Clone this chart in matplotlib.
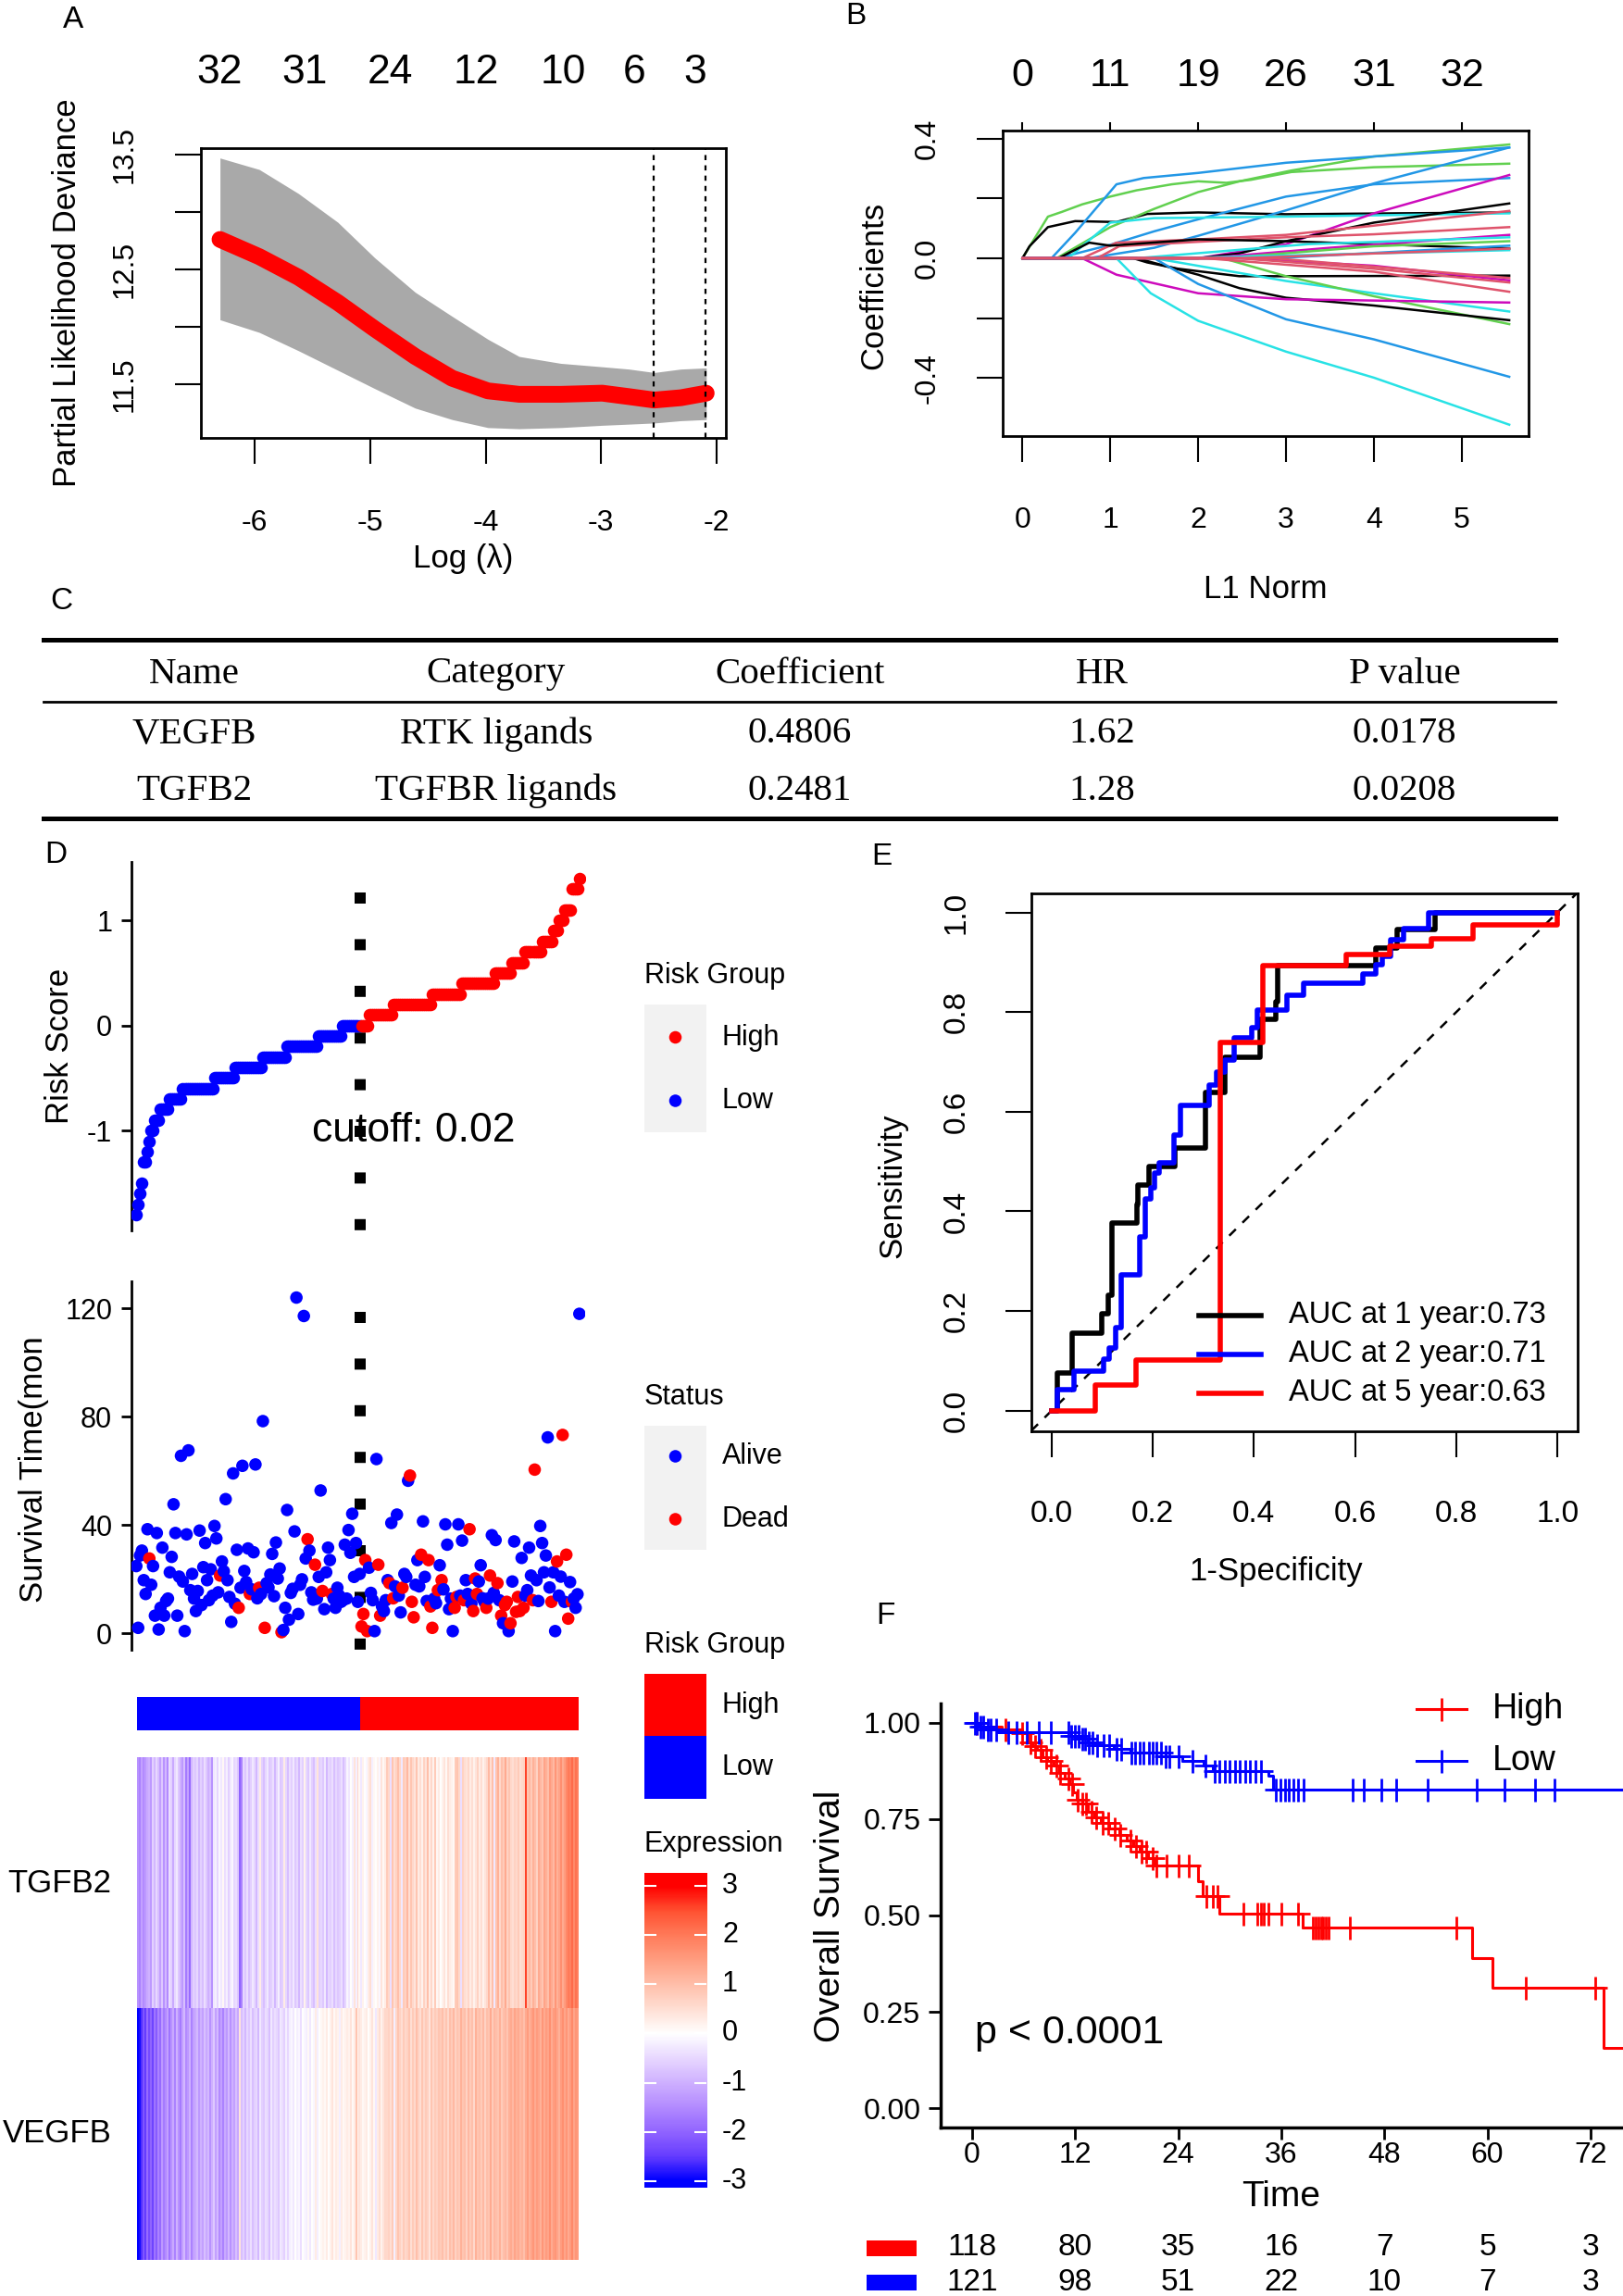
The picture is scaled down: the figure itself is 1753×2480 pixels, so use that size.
import numpy as np
import matplotlib
matplotlib.use("Agg")
import matplotlib.pyplot as plt
from matplotlib.colors import LinearSegmentedColormap, ListedColormap, Normalize
from matplotlib.patches import Rectangle

plt.rcParams['font.family'] = ['Liberation Sans', 'DejaVu Sans']
plt.rcParams['axes.unicode_minus'] = False

# ---------------- data ----------------
# A: cross-validated partial likelihood deviance
cv_loglam = [-6.30, -5.96, -5.62, -5.28, -4.96, -4.61, -4.29, -3.98, -3.71, -3.35, -2.99, -2.76, -2.54, -2.31, -2.09]
cv_mean = [12.76, 12.61, 12.43, 12.21, 11.98, 11.74, 11.55, 11.44, 11.41, 11.41, 11.42, 11.39, 11.36, 11.38, 11.42]
cv_upper = [13.47, 13.37, 13.16, 12.91, 12.60, 12.30, 12.09, 11.89, 11.74, 11.68, 11.65, 11.63, 11.60, 11.63, 11.64]
cv_lower = [12.06, 11.95, 11.79, 11.62, 11.46, 11.29, 11.19, 11.12, 11.11, 11.12, 11.14, 11.15, 11.16, 11.18, 11.19]
lam_min, lam_1se = -2.545, -2.10
nz_pos = [-6.30, -5.57, -4.83, -4.08, -3.33, -2.71, -2.19]
nz_lab = ['32', '31', '24', '12', '10', '6', '3']

# B: coefficient paths
path_l1 = [
    [0, 0.29, 0.45, 0.68, 1.0, 1.3, 1.7, 2.0, 2.32, 2.6, 3.06, 4.0, 5.54],
    [0, 0.08, 0.29, 0.6, 1.07, 1.42, 2.0, 3.0, 5.54],
    [0, 0.39, 1.0, 1.5, 2.0, 2.47, 3.06, 4.0, 5.54],
    [0, 0.33, 0.6, 1.07, 1.38, 2.0, 3.0, 4.0, 5.54],
    [0, 0.75, 1.5, 2.0, 3.0, 4.0, 5.54],
    [0, 0.4, 1.0, 1.5, 2.0, 3.0, 4.0, 5.54],
    [0, 0.52, 0.8, 1.0, 1.5, 3.0, 5.54],
    [0, 2.0, 3.0, 4.0, 5.54],
    [0, 2.0, 2.47, 3.0, 4.0, 5.54],
    [0, 0.68, 1.07, 2.0, 3.0, 4.0, 5.54],
    [0, 0.85, 1.1, 2.0, 3.0, 4.0, 5.54],
    [0, 0.41, 0.76, 1.0, 2.0, 3.0, 4.0, 5.54],
    [0, 2.08, 3.5, 5.54],
    [0, 2.28, 4.0, 5.54],
    [0, 1.3, 3.25, 5.54],
    [0, 2.86, 5.54],
    [0, 1.69, 5.54],
    [0, 2.47, 5.54],
    [0, 1.26, 1.42, 1.77, 2.47, 3.0, 5.54],
    [0, 1.5, 3.0, 4.0, 5.54],
    [0, 2.28, 3.0, 4.0, 5.54],
    [0, 1.3, 2.0, 2.47, 3.0, 4.0, 5.54],
    [0, 0.68, 1.07, 2.0, 3.0, 5.54],
    [0, 1.07, 1.46, 2.0, 3.0, 4.0, 5.54],
    [0, 1.5, 2.0, 3.0, 4.0, 5.54],
    [0, 2.47, 4.0, 5.54],
    [0, 2.47, 4.0, 5.54],
    [0, 2.08, 4.0, 5.54],
    [0, 2.86, 5.54],
]
path_coef = [
    [0, .139, .155, .18, .206, .227, .247, .257, .252, .262, .288, .304, .316],
    [0, .04, .104, .124, .121, .148, .153, .147, .153],
    [0, 0, .104, .165, .221, .257, .293, .34, .38],
    [0, 0, .085, .247, .268, .285, .319, .34, .37],
    [0, 0, .035, .075, .16, .25, .37],
    [0, 0, .045, .09, .13, .206, .247, .268],
    [0, 0, .07, .119, .134, .139, .15],
    [0, 0, .047, .15, .278],
    [0, 0, .016, .057, .119, .183],
    [0, 0, .052, .063, .078, .109, .158],
    [0, 0, .04, .055, .07, .08, .104],
    [0, 0, .052, .042, .063, .057, .047, .032],
    [0, 0, .035, .078],
    [0, 0, .04, .057],
    [0, 0, .047, .07],
    [0, 0, .042],
    [0, 0, .027],
    [0, 0, .032],
    [0, 0, -.014, -.035, -.06, -.06, -.058],
    [0, 0, -.076, -.117, -.178],
    [0, 0, -.06, -.127, -.22],
    [0, 0, -.055, -.10, -.132, -.158, -.207],
    [0, 0, -.055, -.117, -.137, -.148],
    [0, 0, -.117, -.209, -.312, -.399, -.556],
    [0, 0, -.086, -.204, -.271, -.396],
    [0, 0, -.025, -.074],
    [0, 0, -.035, -.081],
    [0, 0, -.045, -.112],
    [0, 0, -.066],
]
path_col = ['#61D04F', 'black', '#61D04F', '#2297E6', '#2297E6', '#2297E6', '#28E2E5', '#CD0BBC',
            'black', '#DF536B', '#DF536B', 'black', '#CD0BBC', '#61D04F', '#28E2E5', '#2297E6',
            '#28E2E5', '#DF536B', 'black', '#28E2E5', '#61D04F', 'black', '#CD0BBC', '#28E2E5',
            '#2297E6', '#CD0BBC', '#DF536B', '#DF536B', '#DF536B']
df_top = ['0', '11', '19', '26', '31', '32']

# C: table
tab_head = ['Name', 'Category', 'Coefficient', 'HR', 'P value']
tab_rows = [['VEGFB', 'RTK ligands', '0.4806', '1.62', '0.0178'],
            ['TGFB2', 'TGFBR ligands', '0.2481', '1.28', '0.0208']]

# D: risk score (run lengths of sorted scores)
risk_low_lv = [-1.8, -1.7, -1.6, -1.5, -1.3, -1.2, -1.1, -1.0, -0.9, -0.8, -0.7, -0.6, -0.5, -0.4, -0.3, -0.2, -0.1, 0.0]
risk_low_n = [1, 1, 1, 1, 2, 1, 1, 2, 3, 5, 7, 17, 11, 15, 13, 17, 13, 10]
risk_high_lv = [0.0, 0.1, 0.2, 0.3, 0.4, 0.5, 0.6, 0.7, 0.8, 0.9, 1.0, 1.1, 1.3, 1.4]
risk_high_n = [4, 13, 21, 16, 18, 9, 7, 9, 6, 3, 3, 4, 4, 1]
cutoff_txt = 'cutoff: 0.02'

surv_low = [24.9, 2.1, 28.8, 30.6, 19.7, 14.6, 38.5, 27.7, 18.0, 24.9, 6.6, 37.1, 1.5, 9.5, 31.7, 6.6,
            12.0, 12.9, 22.6, 28.3, 47.7, 37.1, 6.6, 21.0, 65.6, 19.2, 0.9, 36.6, 67.6, 16.0, 22.0, 12.9,
            8.3, 15.7, 38.0, 10.5, 24.5, 33.4, 19.7, 12.3, 23.7, 14.0, 39.7, 35.1, 15.2, 21.4, 26.6, 23.0,
            49.6, 19.7, 13.5, 4.3, 59.1, 11.0, 30.9, 9.5, 16.9, 61.9, 23.1, 19.0, 31.4, 14.6, 16.3, 30.0,
            62.4, 13.0, 16.9, 14.6, 78.4, 2.1, 18.6, 17.0, 21.8, 29.4, 13.8, 33.6, 20.3, 24.0, 0.5, 1.3,
            9.5, 45.6, 5.1, 15.0, 16.5, 37.7, 124.0, 7.2, 18.0, 20.0, 117.2, 27.7, 34.8, 30.6, 15.2, 12.5,
            25.4, 12.9, 20.9, 52.8, 15.7, 9.0, 22.6, 31.7, 27.1, 14.6, 12.9, 9.5, 16.9, 14.0, 11.7, 12.3,
            32.8, 12.9, 38.2, 29.8, 44.2, 20.9, 33.4, 11.7, 22.0]
dead_low = [0, 0, 0, 0, 0, 0, 0, 1, 0, 0, 0, 0, 0, 0, 0, 0,
            0, 0, 0, 0, 0, 0, 0, 0, 0, 0, 0, 0, 0, 0, 0, 0,
            0, 0, 0, 0, 0, 0, 0, 0, 0, 0, 0, 0, 0, 1, 0, 0,
            0, 0, 0, 0, 0, 0, 0, 1, 0, 0, 0, 0, 0, 1, 0, 0,
            0, 0, 1, 0, 0, 1, 0, 0, 0, 0, 0, 0, 0, 0, 1, 0,
            0, 0, 0, 0, 0, 0, 0, 0, 0, 0, 0, 0, 1, 0, 0, 0,
            1, 0, 0, 0, 1, 0, 0, 0, 0, 1, 0, 0, 0, 0, 0, 0,
            0, 0, 0, 0, 0, 0, 0, 0, 0]
surv_high = [2.6, 7.2, 27.1, 0.9, 24.3, 15.0, 12.3, 0.9, 64.4, 25.4, 6.6, 10.0, 8.3, 12.3, 19.7, 18.6,
             40.8, 13.0, 17.4, 43.9, 14.0, 7.8, 16.9, 22.0, 20.9, 56.4, 58.3, 11.7, 6.0, 18.0, 27.1, 17.4,
             29.1, 41.4, 20.9, 12.0, 27.1, 10.0, 2.1, 12.9, 11.2, 16.0, 25.2, 19.7, 16.3, 40.3, 32.8, 9.0,
             12.9, 0.9, 9.5, 13.5, 40.3, 14.0, 34.3, 12.3, 19.7, 14.6, 38.5, 11.0, 8.3, 20.3, 14.6, 19.2,
             25.2, 13.0, 11.7, 9.5, 12.9, 21.4, 36.3, 15.0, 34.5, 18.6, 12.3, 6.6, 3.8, 10.5, 11.7, 0.9,
             3.8, 19.2, 34.0, 8.0, 13.5, 8.3, 27.9, 9.5, 14.0, 16.0, 31.7, 21.4, 12.3, 60.5, 19.7, 12.0,
             39.7, 33.4, 22.6, 28.8, 72.4, 17.0, 11.7, 22.6, 0.9, 26.6, 14.0, 21.0, 73.3, 11.7, 29.1, 5.5,
             19.0, 11.7, 12.9, 9.5, 14.5, 118.0]
dead_high = [1, 1, 1, 1, 0, 0, 0, 0, 0, 1, 1, 0, 0, 0, 0, 1,
             0, 1, 0, 0, 0, 0, 1, 0, 0, 0, 1, 1, 1, 0, 0, 0,
             1, 0, 0, 0, 1, 1, 1, 0, 0, 1, 0, 1, 0, 0, 0, 0,
             0, 0, 1, 1, 0, 0, 0, 1, 0, 0, 1, 0, 1, 1, 1, 0,
             0, 0, 0, 1, 0, 1, 0, 0, 0, 1, 0, 1, 0, 1, 1, 0,
             1, 0, 0, 1, 1, 1, 0, 1, 0, 0, 0, 0, 1, 1, 0, 0,
             0, 0, 0, 0, 0, 0, 1, 0, 0, 1, 0, 0, 1, 0, 1, 1,
             0, 1, 0, 0, 0, 0]

# D: heatmap expression (columns in risk order)
genes = ['TGFB2', 'VEGFB']
expr_tgfb2 = [
    -1.4, -1.6, -1.2, -1.5, -1.3, -1.1, -1.0, -1.3, -0.6, -0.9,
    -0.5, -0.8, -1.2, -0.7, -1.4, -0.9, -1.5, -0.4, -0.6, -1.1,
    -0.5, -0.3, -0.7, -1.0, -1.3, -0.8, -1.7, -1.2, -1.9, -0.9,
    -0.6, -0.7, -0.5, -0.9, -0.6, -0.8, -0.4, -0.7, -1.0, -0.8,
    -1.4, -0.3, -0.2, -0.5, -0.1, -0.3, 0.1, -0.4, -0.2, -0.6,
    -0.3, -0.1, -0.5, -0.4, -0.7, -2.0, -1.6, -0.5, -0.7, -0.4,
    -0.8, -0.6, -0.3, -0.5, -0.9, -0.4, 0.3, -0.6, -0.8, -0.5,
    -0.3, -0.7, -0.6, -0.4, -0.9, -0.5, -0.2, -0.7, -0.6, 0.3,
    -0.5, -0.8, -0.4, -0.6, -0.3, -0.7, -0.5, -0.9, -0.4, -0.6,
    0.2, -0.5, -0.7, -0.3, -0.6, -0.8, -0.4, 0.4, -0.6, -0.5,
    -0.7, -0.3, -0.9, -0.5, -0.6, -0.4, -0.8, -0.5, -0.7, -0.6,
    -0.4, -0.8, -0.5, -0.1, -0.3, 0.0, -0.2, 0.4, -0.2, 0.6,
    0.1, -0.3, 0.2, 0.0, -0.1, 0.3, 0.5, -0.2, 0.1, 0.0,
    0.2, -0.1, 0.4, 0.1, 0.3, 0.8, 0.6, -0.4, 0.9, 0.5,
    0.7, 1.0, 0.6, -0.3, 0.8, 0.7, 1.1, 0.5, 0.9, 0.6,
    0.4, 0.9, 0.3, 0.5, 0.2, 0.7, 0.4, 1.0, 0.3, 0.6,
    0.2, 0.8, 0.1, 0.3, 0.0, 0.2, 0.4, 0.1, 0.5, 0.3,
    0.2, 0.1, 0.8, 0.9, 0.6, -0.4, 0.7, 0.5, 0.4, 0.6,
    0.3, 0.5, 0.2, 0.4, 0.7, 0.3, 0.5, 0.2, 0.4, 0.6,
    1.1, 0.5, 1.0, -0.3, 0.9, 1.2, 0.6, 1.0, 0.8, 1.3,
    0.7, 0.9, 0.6, 0.5, 0.7, 0.6, 0.8, 0.5, 0.6, 0.7,
    2.6, 0.9, 1.1, 0.8, 1.2, 1.0, 0.7, 1.3, 1.1, 0.9,
    1.4, 1.2, 1.0, 1.5, 1.3, 1.1, 1.6, 1.2, 1.4, 1.7,
    1.3, 1.5, 1.8, 2.0, 1.9, 2.2, 1.8, 2.1, 1.9]
expr_vegfb = [
    -3.0, -2.9, -2.6, -2.2, -2.5, -1.9, -2.3, -2.0, -2.4, -1.8,
    -2.1, -1.6, -1.9, -1.3, -1.7, -1.5, -1.2, -1.8, -1.4, -1.1,
    -1.6, -1.0, -1.4, -1.7, -1.2, -0.9, -1.5, -1.3, -1.0, -1.6,
    -1.2, -1.1, -0.9, -1.3, -1.0, -1.2, -0.8, -1.1, -0.9, -1.4,
    -1.0, -0.7, -1.2, -0.9, -1.5, -1.2, -1.6, -1.1, -1.3, -0.9,
    -1.4, -1.0, -1.2, -0.8, -1.1, 0.4, -0.8, -0.6, -0.9, -0.5,
    -0.7, -0.4, -0.8, -0.6, -0.5, -0.9, -0.3, -0.6, -0.7, -0.4,
    -0.5, -0.8, -0.3, -0.6, -0.4, -0.5, -0.7, -0.3, -0.4, -0.6,
    -0.2, -0.5, -0.2, -0.1, -0.3, 0.0, -0.2, -0.1, -0.4, 0.0,
    -0.1, -0.2, 0.1, -0.3, 0.0, -0.1, 0.3, -0.2, 0.0, 0.1,
    0.2, 0.1, 0.3, 0.0, 0.2, 0.4, 0.1, 0.3, 0.2, -0.2,
    0.3, 0.1, 0.2, 0.3, 0.2, 0.4, 0.1, 0.3, 0.9, 0.2,
    0.4, 0.3, 0.1, 0.2, 0.3, 0.0, 0.2, 0.4, 0.1, -0.3,
    0.3, 0.5, 0.2, 0.4, 0.6, 0.6, 0.7, 0.5, 0.8, -0.2,
    0.6, 0.9, 0.7, 0.5, 0.8, 0.6, 0.7, 0.9, 0.5, 0.8,
    0.6, 1.0, 0.7, 0.5, 0.9, 0.6, 0.8, 0.7, 0.4, 0.9,
    0.6, 0.8, 0.7, 0.9, 0.8, 1.0, 0.7, 0.9, 0.6, 1.0,
    0.8, 1.1, 0.7, 0.9, 0.8, 1.2, 0.9, 1.0, 0.7, 1.1,
    0.8, 1.0, 0.6, 1.2, 0.9, 1.0, 0.8, 1.1, 0.7, 1.0,
    0.9, 1.3, 0.8, 1.1, 1.0, 0.9, 1.2, 0.8, 1.0, 1.1,
    0.9, 1.2, 1.3, 1.1, 1.4, 1.2, 1.3, 1.1, 1.2, 1.0,
    1.3, 1.5, 1.2, 1.4, 1.6, 1.3, 1.5, 1.4, 1.2, 1.6,
    1.3, 1.5, 1.4, 1.7, 1.3, 1.5, 1.6, 1.4, 1.2, 1.5,
    1.7, 1.4, 1.6, 1.3, 1.5, 1.8, 1.4, 1.6, 1.5]
expr_stops = [-3, -2.5, -2, -1.5, -1, -0.5, 0, 0.5, 1, 1.5, 2, 2.5, 3]
expr_colors = ['#0000FF', '#673DFF', '#9265FF', '#B38BFF', '#CFB1FF', '#E8D8FF', '#FFFFFF',
               '#FFDFD4', '#FFBFAA', '#FF9E81', '#FF7B5A', '#FF5232', '#FF0000']

# E: time-dependent ROC (right-then-up steps)
roc1 = [(0, 0), (.011, .076), (.04, .156), (.1, .194), (.112, .232), (.12, .376), (.168, .414),
        (.171, .453), (.193, .49), (.244, .528), (.305, .638), (.343, .71), (.412, .786),
        (.443, .82), (.447, .894), (.641, .928), (.683, .966), (.759, 1.0), (1.0, 1.0)]
roc2 = [(0, 0), (.011, .042), (.045, .080), (.103, .103), (.113, .126), (.126, .167), (.137, .273),
        (.175, .349), (.186, .425), (.196, .448), (.204, .478), (.213, .497), (.242, .554),
        (.255, .613), (.312, .653), (.326, .68), (.343, .704), (.36, .748), (.396, .768),
        (.406, .805), (.465, .833), (.498, .858), (.616, .877), (.641, .896), (.654, .912),
        (.671, .945), (.696, .968), (.746, 1.0), (1.0, 1.0)]
roc5 = [(0, 0), (.087, .051), (.167, .101), (.334, .739), (.418, .894), (.582, .915), (.668, .932),
        (.75, .947), (.834, .976), (1.0, 1.0)]
roc_lab = ['AUC at 1 year:0.73', 'AUC at 2 year:0.71', 'AUC at 5 year:0.63']

# F: Kaplan-Meier
km_high_t = [0, 1.0, 3.5, 5.8, 6.5, 7.0, 7.6, 8.2, 8.8, 9.5, 10.2, 10.8, 11.3, 11.8, 12.2, 12.8, 13.5,
             14.2, 15.0, 16.0, 17.2, 18.0, 18.8, 19.5, 20.5, 21.2, 26.3, 26.8, 28.8, 38.5, 58.2, 60.6, 73.5]
km_high_s = [1.0, 0.991, 0.982, 0.972, 0.95, 0.94, 0.93, 0.91, 0.90, 0.89, 0.87, 0.855, 0.84, 0.82, 0.80,
             0.79, 0.77, 0.755, 0.74, 0.725, 0.71, 0.695, 0.68, 0.665, 0.65, 0.63, 0.59, 0.55, 0.506,
             0.468, 0.39, 0.312, 0.156]
km_low_t = [0, 0.8, 1.8, 3.0, 11.5, 12.5, 13.5, 14.5, 16.5, 18.5, 22.5, 24.5, 27.0, 28.0, 34.5, 35.0]
km_low_s = [1.0, 0.991, 0.983, 0.975, 0.967, 0.958, 0.950, 0.941, 0.932, 0.922, 0.912, 0.902, 0.890,
            0.874, 0.862, 0.826]
km_end = 76
cens_high = [0.6, 3.9, 5.8, 6.8, 7.4, 8.0, 8.6, 9.2, 9.8, 10.3, 11.2, 11.7, 12.3, 12.8, 13.3, 13.9, 14.5,
             15.2, 15.9, 16.6, 17.3, 18.5, 19.1, 19.7, 20.3, 21.0, 21.5, 22.6, 24.1, 25.2, 27.3, 28.0,
             28.6, 31.6, 33.2, 33.6, 34.0, 34.5, 36.0, 37.9, 39.7, 40.0, 40.3, 40.6, 40.9, 41.2, 41.5,
             44.0, 56.4, 64.5, 72.5]
cens_low = [0.3, 0.6, 1.0, 1.3, 1.8, 2.2, 2.8, 4.2, 5.2, 6.4, 7.8, 9.2, 11.2, 11.6, 12.0, 12.4, 12.8,
            13.2, 13.6, 14.0, 14.6, 15.3, 16.0, 16.8, 17.4, 18.6, 19.0, 19.5, 20.0, 20.6, 21.0, 21.5,
            22.0, 22.5, 23.0, 24.0, 25.7, 27.2, 28.2, 28.8, 29.4, 30.0, 30.6, 31.2, 31.8, 32.4, 33.0,
            33.6, 35.4, 35.9, 36.4, 36.9, 37.4, 38.0, 38.6, 44.3, 45.6, 47.7, 49.4, 53.0, 58.8, 62.0,
            65.5, 67.8]
risk_times = [0, 12, 24, 36, 48, 60, 72]
atrisk_high = [118, 80, 35, 16, 7, 5, 3]
atrisk_low = [121, 98, 51, 22, 10, 7, 3]

# ---------------- figure ----------------
W, H = 1753, 2480
fig = plt.figure(figsize=(W / 100, H / 100), dpi=100)


def px_box(x0, y0, x1, y1):
    return [x0 / W, 1 - y1 / H, (x1 - x0) / W, (y1 - y0) / H]


def r_style(ax, xt, yt):
    ax.set_xticks(xt)
    ax.set_yticks(yt)
    ax.tick_params(direction='out', length=20, width=1.5, labelbottom=False, labelleft=False)
    for s in ax.spines.values():
        s.set_linewidth(2)


def xlab(ax, vals, labs, off, size, top=False):
    for v, l in zip(vals, labs):
        ax.annotate(l, (v, 1 if top else 0), xycoords=('data', 'axes fraction'),
                    xytext=(0, off if top else -off), textcoords='offset pixels',
                    ha='center', va='center', fontsize=size, annotation_clip=False)


def ylab(ax, vals, labs, off, size):
    for v, l in zip(vals, labs):
        ax.annotate(l, (0, v), xycoords=('axes fraction', 'data'), xytext=(-off, 0),
                    textcoords='offset pixels', ha='center', va='center', rotation=90,
                    fontsize=size, annotation_clip=False)


# ---- A
axA = fig.add_axes(px_box(217, 160, 784, 473))
axA.fill_between(cv_loglam, cv_lower, cv_upper, color='#A9A9A9', lw=0)
axA.plot(cv_loglam, cv_mean, color='red', lw=13, solid_capstyle='round')
for v in [lam_min, lam_1se]:
    axA.axvline(v, color='black', lw=1.6, ls=(0, (2.5, 2.5)))
axA.set_xlim(-6.465, -1.92)
axA.set_ylim(11.03, 13.556)
r_style(axA, [-6, -5, -4, -3, -2], [11.5, 12, 12.5, 13, 13.5])
xlab(axA, [-6, -5, -4, -3, -2], ['-6', '-5', '-4', '-3', '-2'], 92, 23)
ylab(axA, [11.5, 12.5, 13.5], ['11.5', '12.5', '13.5'], 82, 23)
xlab(axA, nz_pos, nz_lab, 82, 32, top=True)

# ---- B
axB = fig.add_axes(px_box(1083, 141, 1651, 471))
for l1, cf, col in zip(path_l1, path_coef, path_col):
    axB.plot(l1, cf, color=col, lw=1.8)
axB.set_xlim(-0.225, 5.76)
axB.set_ylim(-0.594, 0.4266)
r_style(axB, range(6), [-0.4, -0.2, 0.0, 0.2, 0.4])
axB.vlines(range(6), 1, 1 + 9 / 330, transform=axB.get_xaxis_transform(), colors='black',
           lw=1.5, clip_on=False)
xlab(axB, range(6), [str(i) for i in range(6)], 91, 23)
ylab(axB, [-0.4, 0.0, 0.4], ['-0.4', '0.0', '0.4'], 81, 23)
xlab(axB, range(6), df_top, 59, 31, top=True)

# ---- D: risk score
n_low, n_high = sum(risk_low_n), sum(risk_high_n)
risk_low = np.repeat(risk_low_lv, risk_low_n)
risk_high = np.repeat(risk_high_lv, risk_high_n)
x_low = np.arange(1, n_low + 1)
x_high = np.arange(n_low + 1, n_low + n_high + 1)


def gg_left(ax):
    for s in ['top', 'right', 'bottom']:
        ax.spines[s].set_visible(False)
    ax.spines['left'].set_linewidth(2)
    ax.tick_params(axis='x', bottom=False, labelbottom=False)
    ax.tick_params(axis='y', length=8, width=2, pad=7, labelsize=22)
    ax.patch.set_alpha(0)


def cut_line(ax):
    ax.plot([n_low, n_low], [1, 0], transform=ax.get_xaxis_transform(), color='black',
            lw=8.64, ls=(1.45, (1, 3.2)), dash_capstyle='butt', clip_on=False)


axR = fig.add_axes(px_box(142, 931, 632, 1329))
axR.scatter(x_low, risk_low, s=95, color='blue', lw=0, zorder=3)
axR.scatter(x_high, risk_high, s=95, color='red', lw=0, zorder=3)
cut_line(axR)
axR.text(150, -1, cutoff_txt, fontsize=32, ha='center', va='center', zorder=4)
axR.set_xlim(-1.6, 242.1)
axR.set_ylim(-1.95, 1.556)
axR.set_yticks([-1, 0, 1])
gg_left(axR)

# ---- D: survival time
axS = fig.add_axes(px_box(142, 1384, 632, 1782))
st = np.r_[surv_low, surv_high]
dd = np.r_[dead_low, dead_high]
xs = np.arange(1, len(st) + 1)
axS.scatter(xs, st, s=95, c=np.where(dd == 1, 'red', 'blue'), lw=0, zorder=3)
cut_line(axS)
axS.set_xlim(-1.6, 242.1)
axS.set_ylim(-6, 130)
axS.set_yticks([0, 40, 80, 120])
gg_left(axS)

# ---- D: heatmap
cmap = LinearSegmentedColormap.from_list('expr', list(zip([(v + 3) / 6 for v in expr_stops], expr_colors)))
norm = Normalize(-3, 3)
axAn = fig.add_axes(px_box(147.6, 1833, 624.6, 1869))
grp = np.r_[np.zeros(n_low), np.ones(n_high)]
axAn.imshow(grp[None, :], aspect='auto', cmap=ListedColormap(['blue', 'red']),
            interpolation='nearest')
axAn.axis('off')
axH = fig.add_axes(px_box(147.6, 1898, 624.6, 2441))
axH.imshow(np.array([expr_tgfb2, expr_vegfb]), aspect='auto', cmap=cmap, norm=norm,
           interpolation='nearest')
axH.axis('off')

cax = fig.add_axes(px_box(696, 2023, 763, 2363))
cax.imshow(np.linspace(3.26, -3.13, 300)[:, None], aspect='auto', cmap=cmap, norm=norm,
           extent=(0, 1, -3.13, 3.26))
cax.set_xlim(0, 1)
cax.set_ylim(-3.13, 3.26)
cax.axis('off')
for v in range(-3, 4):
    cax.hlines(v, 0, 0.2, color='white', lw=1.5)
    cax.hlines(v, 0.8, 1, color='white', lw=1.5)
    cax.annotate(str(v), (1, v), xycoords=('axes fraction', 'data'), xytext=(17, 0),
                 textcoords='offset pixels', ha='left', va='center', fontsize=22)

# ---- E
axE = fig.add_axes(px_box(1114, 964.6, 1704, 1545.8))
axE.axline((0, 0), (1, 1), color='black', lw=1.8, ls=(0, (4, 4)))
for roc, col in zip([roc1, roc2, roc5], ['black', 'blue', 'red']):
    fx, ty = zip(*roc)
    axE.step(fx, ty, where='post', color=col, lw=4)
axE.set_xlim(-0.04, 1.04)
axE.set_ylim(-0.041, 1.039)
ticksE = [0, 0.2, 0.4, 0.6, 0.8, 1.0]
r_style(axE, ticksE, ticksE)
labE = ['0.0', '0.2', '0.4', '0.6', '0.8', '1.0']
xlab(axE, ticksE, labE, 90, 24)
ylab(axE, ticksE, labE, 81, 24)

# ---- F
axF = fig.add_axes(px_box(1016.4, 1840, 1016.4 + 82.6 * 9.28, 2298))
for tt, ss, cens, col in [(km_high_t, km_high_s, cens_high, 'red'),
                          (km_low_t, km_low_s, cens_low, 'blue')]:
    axF.step(list(tt) + [km_end], list(ss) + [ss[-1]], where='post', color=col, lw=2.2)
    idx = np.searchsorted(tt, cens, side='right') - 1
    axF.plot(cens, np.array(ss)[idx], '+', color=col, ms=18, mew=2)
axF.set_xlim(-3.6, 79)
axF.set_ylim(-0.05, 1.05)
axF.set_xticks(risk_times)
axF.set_yticks([0, 0.25, 0.5, 0.75, 1.0])
axF.set_yticklabels(['0.00', '0.25', '0.50', '0.75', '1.00'])
for s in ['top', 'right']:
    axF.spines[s].set_visible(False)
for s in ['left', 'bottom']:
    axF.spines[s].set_linewidth(2.5)
axF.tick_params(axis='both', length=9.4, width=2, labelsize=23)
axF.tick_params(axis='y', pad=6.5)
axF.tick_params(axis='x', pad=1.5)
for t, a, b in zip(risk_times, atrisk_high, atrisk_low):
    axF.annotate(str(a), (t, 0), xycoords=('data', 'axes fraction'), xytext=(0, -130),
                 textcoords='offset pixels', ha='center', va='center', fontsize=24, annotation_clip=False)
    axF.annotate(str(b), (t, 0), xycoords=('data', 'axes fraction'), xytext=(0, -167),
                 textcoords='offset pixels', ha='center', va='center', fontsize=24, annotation_clip=False)

# ---------------- overlay (pixel coordinates) ----------------
ov = fig.add_axes([0, 0, 1, 1])
ov.set_xlim(0, W)
ov.set_ylim(H, 0)
ov.axis('off')


def ot(x, y, s, size, ha='center', **kw):
    ov.text(x, y, s, fontsize=size, ha=ha, va='center', **kw)


for lab, x, y in [('A', 79, 21), ('B', 924, 17), ('C', 66, 649), ('D', 60, 924), ('E', 952, 925),
                  ('F', 956, 1745)]:
    ot(x, y, lab, 24)

ot(500, 604, 'Log (λ)', 25)
ot(73, 316, 'Partial Likelihood Deviance', 25, rotation=90)
ot(1367, 637, 'L1 Norm', 25)
ot(944, 308, 'Coefficients', 25, rotation=90)

# table
ov.plot([47, 1680], [691, 691], color='black', lw=3.6)
ov.plot([47, 1680], [758, 758], color='black', lw=2)
ov.plot([47, 1680], [884, 884], color='black', lw=3.6)
col_x = [210, 536, 864, 1190, 1517]
for x, h in zip(col_x, tab_head):
    ot(x, 728, h, 29.5, family='Liberation Serif')
for y, row in zip([793, 854], tab_rows):
    for x, c in zip(col_x, row):
        ot(x, y, c, 29.5, family='Liberation Serif')

# D labels and legends
ot(64.5, 1130, 'Risk Score', 25, rotation=90)
ot(36.5, 1587, 'Survival Time(mon', 25, rotation=90)
ot(120.6, 2034, genes[0], 25, ha='right')
ot(120.6, 2305, genes[1], 25, ha='right')

ot(696, 1054, 'Risk Group', 22, ha='left')
ov.add_patch(Rectangle((696, 1085), 67, 138, color='#F2F2F2', lw=0))
ov.scatter([729.5, 729.5], [1120.5, 1189], s=95, c=['red', 'blue'], lw=0)
ot(780, 1120.5, 'High', 22, ha='left')
ot(780, 1189, 'Low', 22, ha='left')

ot(696, 1509, 'Status', 22, ha='left')
ov.add_patch(Rectangle((696, 1540), 67, 134, color='#F2F2F2', lw=0))
ov.scatter([729.5, 729.5], [1573, 1641], s=95, c=['blue', 'red'], lw=0)
ot(780, 1573, 'Alive', 22, ha='left')
ot(780, 1641, 'Dead', 22, ha='left')

ot(696, 1777, 'Risk Group', 22, ha='left')
ov.add_patch(Rectangle((696, 1808), 67, 67, color='red', lw=0))
ov.add_patch(Rectangle((696, 1875), 67, 68, color='blue', lw=0))
ot(780, 1842, 'High', 22, ha='left')
ot(780, 1909, 'Low', 22, ha='left')
ot(696, 1992, 'Expression', 22, ha='left')

# E labels and legend
ot(1378, 1697, '1-Specificity', 25)
ot(963.5, 1281, 'Sensitivity', 25, rotation=90)
for y, col, lab in zip([1421, 1463, 1504.5], ['black', 'blue', 'red'], roc_lab):
    ov.plot([1295, 1362], [y, y], color=col, lw=4)
    ot(1392, y, lab, 23.5, ha='left')

# F labels and legend
ot(897, 2070, 'Overall Survival', 28, rotation=90)
ot(1384, 2373, 'Time', 28)
ot(1052.6, 2196, 'p < 0.0001', 31, ha='left')
for y, col, lab in [(1846, 'red', 'High'), (1902, 'blue', 'Low')]:
    ov.plot([1530, 1584], [y, y], color=col, lw=2.2)
    ov.plot([1557], [y], '+', color=col, ms=18, mew=2)
    ot(1612, y, lab, 27, ha='left')
for y, col in [(2428, 'red'), (2465, 'blue')]:
    ov.add_patch(Rectangle((936, y - 8.5), 54, 17, color=col, lw=0))

fig.savefig('out.png', dpi=100)
